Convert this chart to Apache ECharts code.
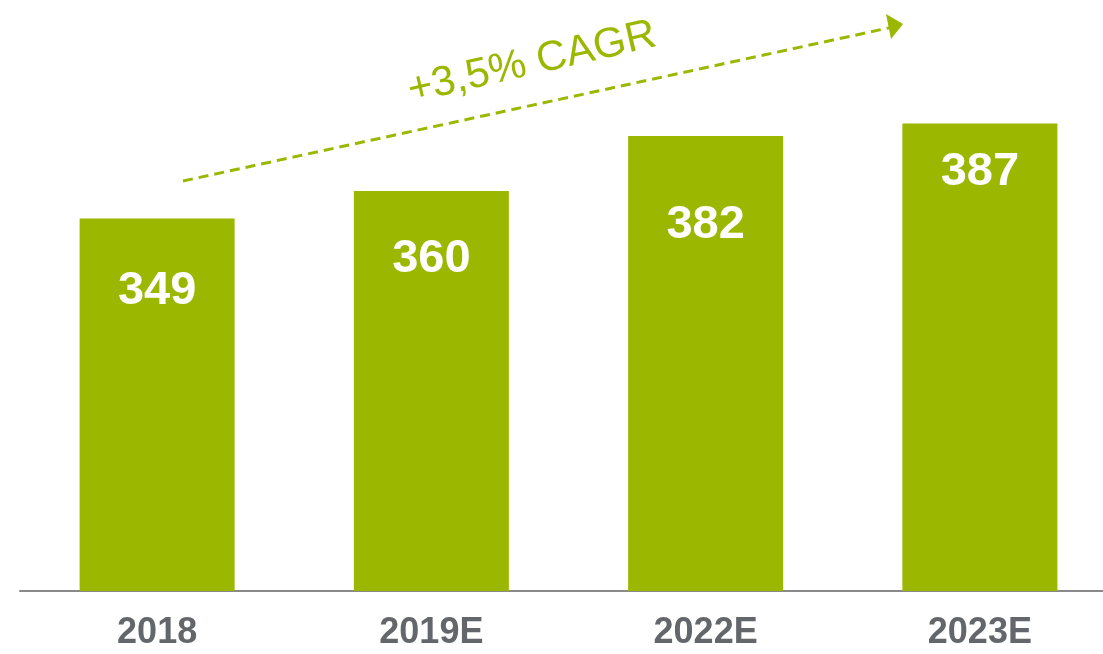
<!DOCTYPE html>
<html>
<head>
<meta charset="utf-8">
<script src="https://cdn.jsdelivr.net/npm/echarts@6/dist/echarts.min.js"></script>
<style>
  html, body { margin: 0; padding: 0; background: #fff; }
  #chart { width: 1103px; height: 654px; }
</style>
</head>
<body>
<div id="chart"></div>
<script>
const categories = ["2018", "2019E", "2022E", "2023E"];
const values = [349, 360, 382, 387];
// how far below the bar top each value label sits in the original
const labelGaps = [49, 45, 66, 25];
const cagrText = "+3,5% CAGR";

const green = "#9CB700";
const gray = "#63666A";

const chart = echarts.init(document.getElementById("chart"));

chart.setOption({
  animation: false,
  grid: {
    left: 20,
    right: -14,
    top: 91,
    bottom: 63,
    outerBoundsMode: "none",
    containLabel: false,
  },
  xAxis: {
    type: "category",
    data: categories,
    axisLine: { lineStyle: { color: "#8a8a8a", width: 2 } },
    axisTick: { show: false },
    axisLabel: {
      color: gray,
      fontSize: 36,
      fontWeight: "bold",
      fontFamily: "Liberation Sans, Arial, sans-serif",
      margin: 24,
    },
  },
  yAxis: {
    type: "value",
    min: 200,
    max: 400,
    show: false,
    splitLine: { show: false },
  },
  series: [
    {
      type: "bar",
      data: values.map((v, i) => ({
        value: v,
        label: { distance: labelGaps[i] },
      })),
      barWidth: 155,
      itemStyle: { color: green },
      label: {
        show: true,
        position: "insideTop",
        color: "#fff",
        fontSize: 47,
        fontWeight: "bold",
        fontFamily: "Liberation Sans, Arial, sans-serif",
      },
    },
  ],
  graphic: [
    {
      type: "line",
      shape: { x1: 183, y1: 181, x2: 893, y2: 27 },
      style: { stroke: green, lineWidth: 3, lineDash: [10, 6] },
    },
    {
      type: "polygon",
      shape: { points: [[903, 24], [886, 14], [891, 39]] },
      style: { fill: green },
    },
    {
      type: "text",
      x: 532,
      y: 63,
      rotation: (13 * Math.PI) / 180,
      style: {
        text: cagrText,
        fill: green,
        fontSize: 42,
        fontFamily: "Liberation Sans, Arial, sans-serif",
        align: "center",
        verticalAlign: "middle",
      },
    },
  ],
});
</script>
</body>
</html>
